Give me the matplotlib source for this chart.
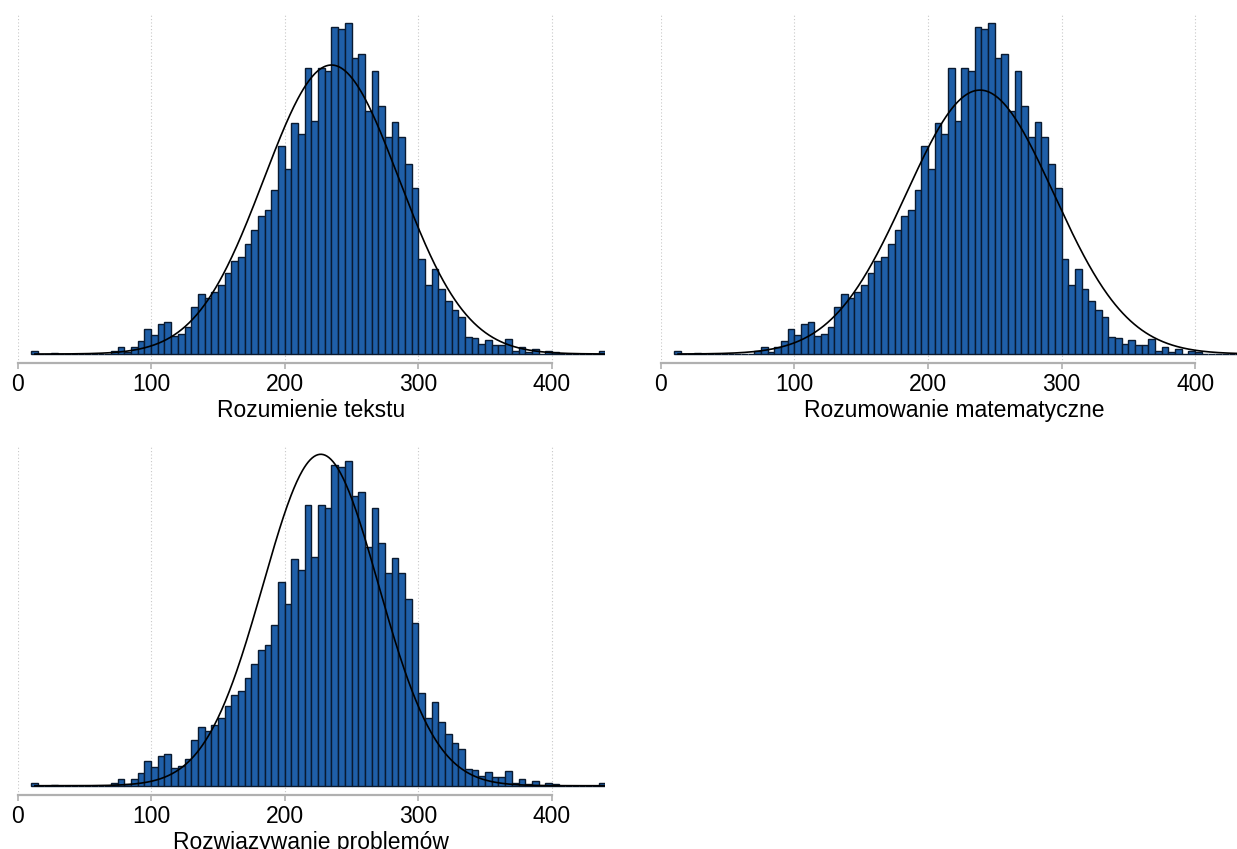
import numpy as np
import matplotlib.pyplot as plt

plt.rcParams['font.family'] = ['Liberation Sans', 'DejaVu Sans']

# histogram bins (width 5, from 10 to 440) and frequencies
bin_width = 5
bin_start = np.arange(10, 440, bin_width)
counts = [3, 0, 0, 1, 0, 0, 0, 0, 0, 0, 0, 0,
          3, 7, 2, 7, 13, 25, 19, 30, 32, 18, 20, 27, 47, 60,
          56, 62, 69, 81, 93, 97, 110, 124, 138, 144,
          164, 208, 185, 231, 220, 286, 233, 286, 283, 327,
          325, 331, 296, 300, 243, 283, 248, 217, 232, 217,
          190, 166, 95, 69, 85, 65, 53, 44, 37, 17,
          16, 10, 14, 9, 9, 15, 3, 7, 2, 5,
          0, 3, 2, 0, 0, 0, 0, 0, 0, 3]

titles = ["Rozumienie tekstu", "Rozumowanie matematyczne", "Rozwiązywanie problemów"]
means = [235, 239, 227]
sds = [50.5, 55.3, 43.2]
data_min, data_max = 13, 440

xticks = [0, 100, 200, 300, 400]

# panel positions in figure fractions
W, H = 1237, 849
panel_px = [(17.5, 14, 363.3), (660.7, 14, 363.3), (17.5, 445, 795)]
px_per_unit = 1.336

fig = plt.figure(figsize=(W / 100, H / 100), dpi=100)

counts = np.array(counts, dtype=float)
n_total = counts.sum()
xs = np.linspace(data_min, data_max, 600)

for (left, top, bottom), title, mu, sd in zip(panel_px, titles, means, sds):
    ax = fig.add_axes([left / W, 1 - bottom / H, 440 * px_per_unit / W, (bottom - top) / H])
    ax.bar(bin_start, counts, width=bin_width, align='edge',
           color='#1f5fa8', edgecolor='#0a1a30', linewidth=1.0, zorder=2)
    curve = n_total * bin_width * np.exp(-0.5 * ((xs - mu) / sd) ** 2) / (sd * np.sqrt(2 * np.pi))
    ax.plot(xs, curve, color='black', lw=1.2, zorder=3)

    m = max(counts.max(), curve.max())
    ax.set_ylim(-0.028 * m, 1.028 * m)
    ax.set_xlim(0, 440)

    ax.set_xticks(xticks)
    ax.set_yticks([])
    ax.grid(axis='x', color='#c8c8c8', linestyle=(0, (1, 2)), lw=0.8, zorder=0)
    for s in ['top', 'right', 'left']:
        ax.spines[s].set_visible(False)
    ax.spines['bottom'].set_color('#b0b0b0')
    ax.spines['bottom'].set_linewidth(1.6)
    ax.spines['bottom'].set_bounds(0, 400)
    ax.tick_params(axis='x', colors='#b0b0b0', length=4, width=1.2,
                   labelcolor='black', labelsize=16.5, pad=3)
    ax.set_xlabel(title, fontsize=16.5, labelpad=2)

fig.savefig('out.png', dpi=100)
